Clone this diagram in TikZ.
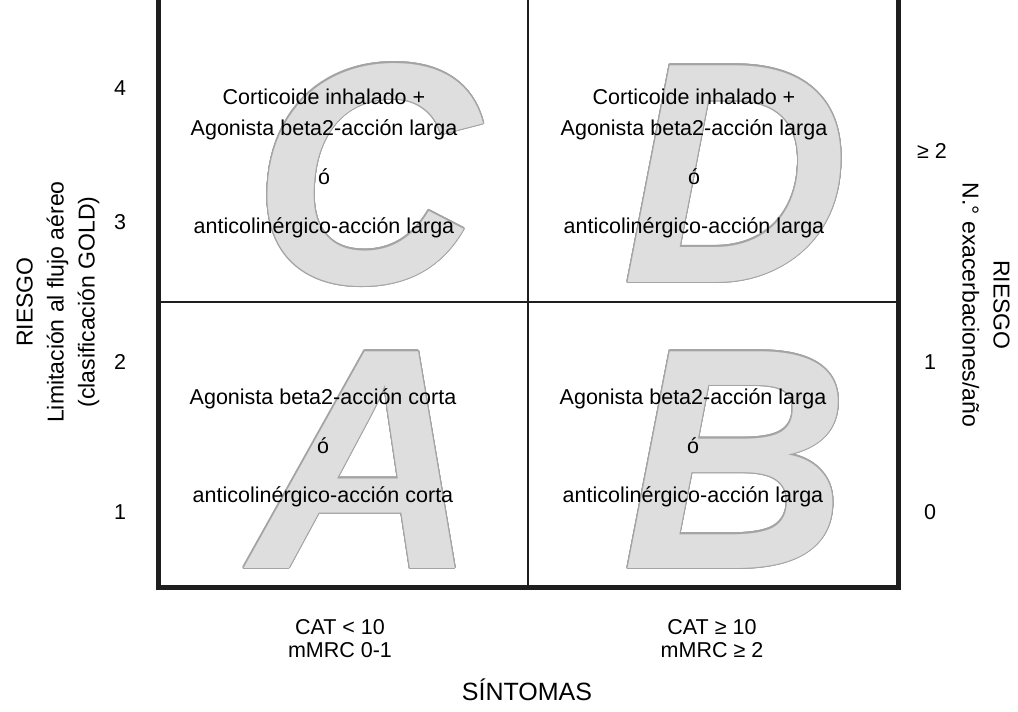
\documentclass[tikz,border=0pt]{standalone}
\usepackage{fontspec}
\setmainfont{Liberation Sans}
\usepackage{contour}
\contourlength{1.1pt}
\contournumber{24}
\definecolor{lettergray}{HTML}{DEDEDE}
\definecolor{letteredge}{HTML}{A4A4A4}
\definecolor{inkline}{HTML}{1E1E1E}
\newcommand{\bigmark}[1]{\contour{letteredge}{\textcolor{lettergray}{#1}}}

\begin{document}
\begin{tikzpicture}[x=1pt, y=-1pt,
    frame/.style ={line width=5pt, color=inkline, line join=miter},
    divider/.style ={line width=2.5pt, color=inkline},
    bigletter/.style ={anchor=base, inner sep=0pt, font=\fontsize{315}{315}\selectfont\bfseries\itshape},
    therapy/.style ={align=center, font=\fontsize{21.5}{31}\selectfont},
    tick/.style ={font=\fontsize{21.5}{26}\selectfont},
    axistitle/.style ={align=center, font=\fontsize{23}{31}\selectfont}]
   \useasboundingbox (0,0) rectangle (1018,712);

   % big grey letters
   \node[bigletter] (C) at (366,283) {\bigmark{C}};
   \node[bigletter] (D) at (736,282) {\bigmark{D}};
   \node[bigletter] (A) at (364,568) {\bigmark{A}};
   \node[bigletter] (B) at (736,568) {\bigmark{B}};

   % frame and dividers
   \coordinate (tl) at (158,0);
   \coordinate (bl) at (158,587);
   \coordinate (br) at (898,587);
   \coordinate (tr) at (898,0);
   \coordinate (mt) at (528,0);
   \coordinate (mb) at (528,587);
   \coordinate (ml) at (158,302);
   \coordinate (mr) at (898,302);

   \draw[frame] (tl) -- (bl) -- (br) -- (tr);
   \draw[divider] (mt) -- (mb);
   \draw[divider] (ml) -- (mr);

   % quadrant texts
   \node[therapy] (txtC) at (324,163) {Corticoide inhalado +\\Agonista beta2-acción larga\\[18pt]ó\\[18pt]anticolinérgico-acción larga};
   \node[therapy] (txtD) at (694,163) {Corticoide inhalado +\\Agonista beta2-acción larga\\[18pt]ó\\[18pt]anticolinérgico-acción larga};
   \node[therapy] (txtA) at (323,448) {Agonista beta2-acción corta\\[18pt]ó\\[18pt]anticolinérgico-acción corta};
   \node[therapy] (txtB) at (693,448) {Agonista beta2-acción larga\\[18pt]ó\\[18pt]anticolinérgico-acción larga};

   % scales
   \node[tick] (g4) at (120,88)  {4};
   \node[tick] (g3) at (120,222) {3};
   \node[tick] (g2) at (120,362) {2};
   \node[tick] (g1) at (120,512) {1};
   \node[tick] (e2) at (932,151) {≥ 2};
   \node[tick] (e1) at (930,362) {1};
   \node[tick] (e0) at (930,512) {0};

   \node[therapy] (cat1) at (340,639) {CAT < 10\\[-8pt]mMRC 0-1};
   \node[therapy] (cat2) at (712,639) {CAT ≥ 10\\[-8pt]mMRC ≥ 2};

   % axis titles
   \node[axistitle, rotate=90] (riskL) at (58,302) {RIESGO\\Limitación al flujo aéreo\\(clasificación GOLD)};
   \node[axistitle, rotate=-90] (riskR) at (986,305) {RIESGO\\N.° exacerbaciones/año};
   \node[axistitle, font=\fontsize{25}{30}\selectfont] (symp) at (527,690) {SÍNTOMAS};

 \end{tikzpicture}
\end{document}
